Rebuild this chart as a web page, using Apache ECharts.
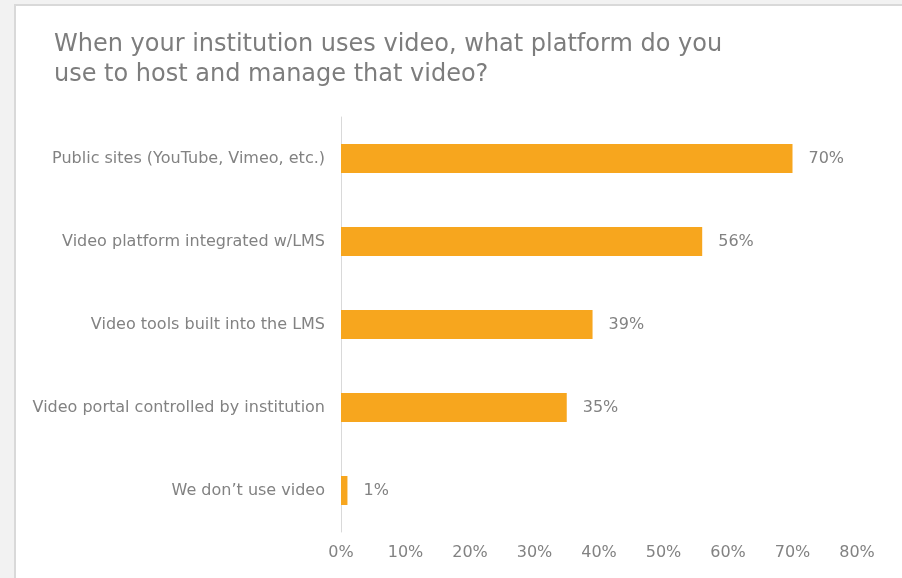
<!DOCTYPE html>
<html>
<head>
<meta charset="utf-8">
<script src="https://cdn.jsdelivr.net/npm/echarts@6/dist/echarts.min.js"></script>
<style>
  html, body { margin: 0; padding: 0; background: #f2f2f2; overflow: hidden; }
  #panel {
    position: absolute; left: 14px; top: 4px; width: 900px; height: 590px;
    background: #ffffff; border-left: 2px solid #d9d9d9; border-top: 2px solid #d9d9d9;
  }
  #chart { position: absolute; left: 0; top: 0; width: 902px; height: 578px; }
</style>
</head>
<body>
<div id="panel"></div>
<div id="chart"></div>
<script>
// Survey answers, top to bottom
const categories = [
  'Public sites (YouTube, Vimeo, etc.)',
  'Video platform integrated w/LMS',
  'Video tools built into the LMS',
  'Video portal controlled by institution',
  'We don\u2019t use video'
];
// Share of respondents (%)
const shares = [70, 56, 39, 35, 1];

const titleText = 'When your institution uses video, what platform do you\nuse to host and manage that video?';
const font = 'Verdana, "DejaVu Sans", sans-serif';
const grey = '#828282';

const chart = echarts.init(document.getElementById('chart'), null, { renderer: 'canvas' });
chart.setOption({
  backgroundColor: 'transparent',
  animation: false,
  title: {
    text: titleText,
    left: 49, top: 25,
    textStyle: { fontFamily: font, fontSize: 24, fontWeight: 'normal', color: '#7d7d7d', lineHeight: 30 }
  },
  grid: { left: 341, right: 45, top: 117, bottom: 46, containLabel: false },
  xAxis: {
    type: 'value', min: 0, max: 80, interval: 10,
    axisLine: { show: false }, axisTick: { show: false }, splitLine: { show: false },
    axisLabel: { formatter: '{value}%', color: grey, fontFamily: font, fontSize: 16, margin: 13 }
  },
  yAxis: {
    type: 'category', data: categories, inverse: true,
    axisLine: { show: true, lineStyle: { color: '#d9d9d9', width: 1 } },
    axisTick: { show: false },
    axisLabel: { color: grey, fontFamily: font, fontSize: 16, margin: 16 }
  },
  series: [{
    type: 'bar', data: shares, barWidth: 29,
    itemStyle: { color: '#F7A61E' },
    label: {
      show: true, position: 'right', distance: 16, formatter: '{c}%',
      color: grey, fontFamily: font, fontSize: 16
    }
  }]
});
</script>
</body>
</html>
